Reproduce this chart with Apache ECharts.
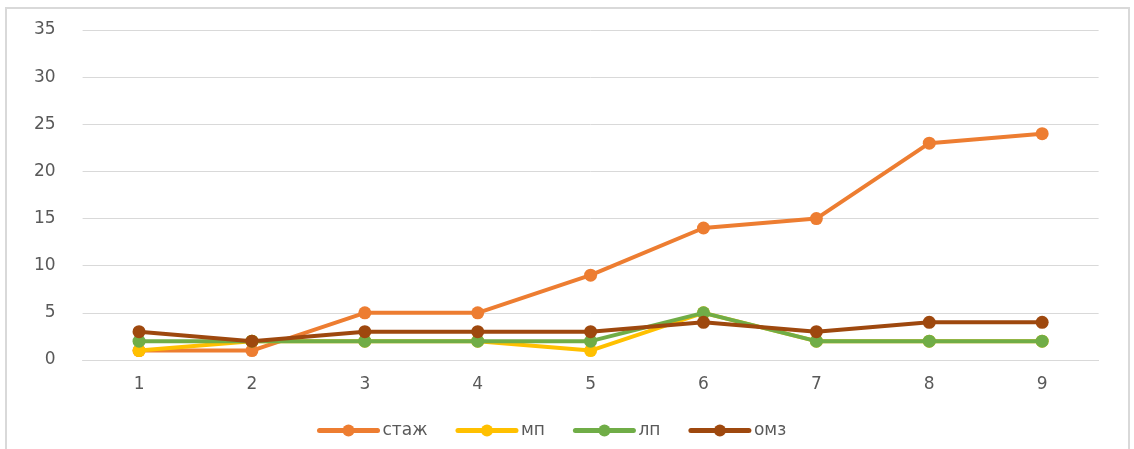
<!DOCTYPE html>
<html>
<head>
<meta charset="utf-8">
<script src="https://cdn.jsdelivr.net/npm/echarts@6/dist/echarts.min.js"></script>
<style>
html,body{margin:0;padding:0;background:#fff;}
#c{width:1134px;height:449px;}
</style>
</head>
<body>
<div id="c"></div>
<script>
const categories = ['1','2','3','4','5','6','7','8','9'];
const stazh = [1, 1, 5, 5, 9, 14, 15, 23, 24];
const mp = [1, 2, 2, 2, 1, 5, 2, 2, 2];
const lp = [2, 2, 2, 2, 2, 5, 2, 2, 2];
const omz = [3, 2, 3, 3, 3, 4, 3, 4, 4];
const seriesNames = ['стаж', 'мп', 'лп', 'омз'];
const colors = ['#ED7D31', '#FFC000', '#70AD47', '#9E480E'];

const chart = echarts.init(document.getElementById('c'), null, {renderer: 'canvas'});
const dataSets = [stazh, mp, lp, omz];
const fontFamily = '"DejaVu Sans", "Open Sans", sans-serif';
chart.setOption({
  animation: false,
  color: colors,
  textStyle: {fontFamily: fontFamily},
  graphic: [{
    type: 'rect',
    shape: {x: 6, y: 8, width: 1123, height: 480},
    style: {fill: 'none', stroke: '#d9d9d9', lineWidth: 2},
    silent: true
  }],
  grid: {left: 82.6, right: 35.4, top: 30, bottom: 89, containLabel: false},
  legend: {
    left: 312, top: 417,
    itemWidth: 58, itemHeight: 15, itemGap: 28,
    lineStyle: {width: 5, cap: 'round'},
    itemStyle: {borderWidth: 0},
    textStyle: {color: '#595959', fontSize: 17, fontFamily: fontFamily},
    data: seriesNames
  },
  xAxis: {
    type: 'category',
    data: categories,
    boundaryGap: true,
    axisLine: {show: true, lineStyle: {color: '#d9d9d9', width: 1}},
    axisTick: {show: false},
    axisLabel: {color: '#595959', fontSize: 17, margin: 16}
  },
  yAxis: {
    type: 'value',
    min: 0, max: 35, interval: 5,
    axisLine: {show: false},
    axisTick: {show: false},
    splitLine: {lineStyle: {color: '#d9d9d9', width: 1}},
    axisLabel: {color: '#595959', fontSize: 17, margin: 27}
  },
  series: seriesNames.map((n, i) => ({
    name: n,
    type: 'line',
    data: dataSets[i],
    symbol: 'circle',
    symbolSize: 13,
    lineStyle: {width: 4, color: colors[i]},
    itemStyle: {color: colors[i], borderWidth: 0},
    z: 2 + i
  }))
});
</script>
</body>
</html>
